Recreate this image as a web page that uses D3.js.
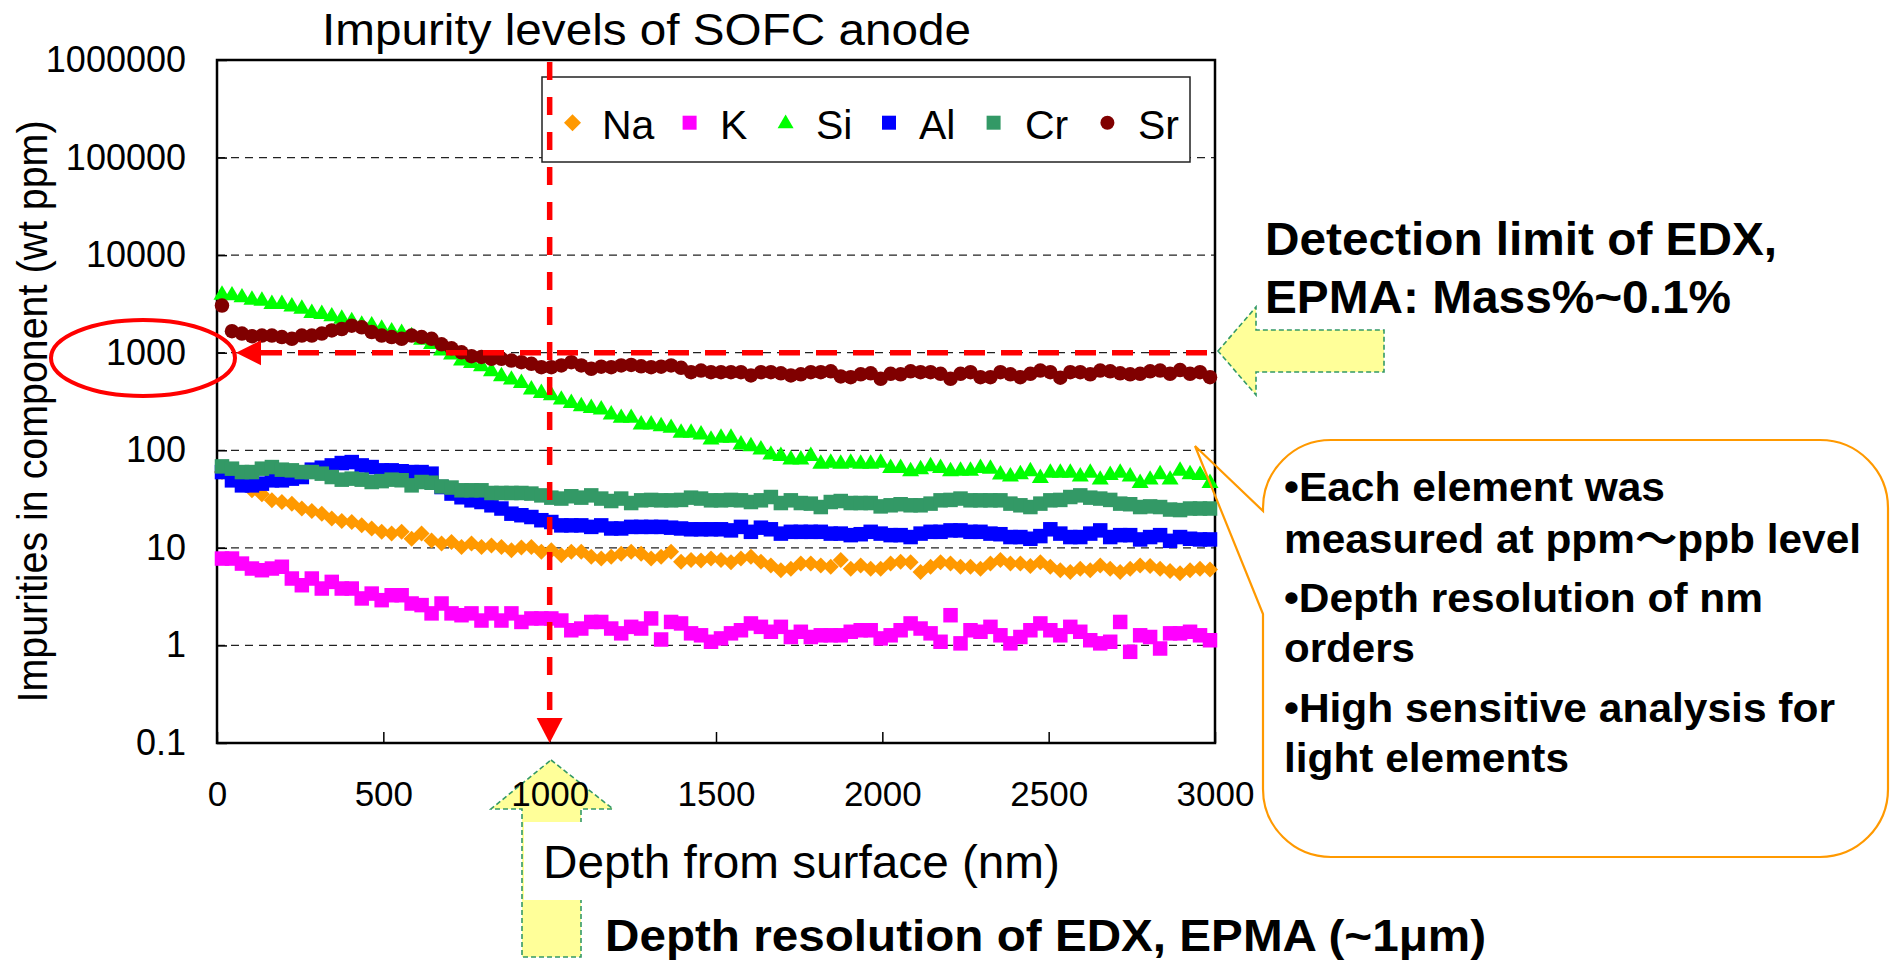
<!DOCTYPE html>
<html><head><meta charset="utf-8">
<script src="https://cdn.jsdelivr.net/npm/d3@7"></script>
<style>
html,body{margin:0;padding:0;background:#fff;}
svg{display:block;}
text{font-family:"Liberation Sans",Arial,"Noto Sans CJK JP",sans-serif;fill:#000;}
</style>
</head><body>
<svg id="c" width="1891" height="962"></svg>
<script>
// ---------- data ----------
const depth = [15,45,75,105,135,165,195,225,255,285,
315,345,375,405,435,465,495,525,555,585,
615,645,675,705,735,765,795,825,855,885,
915,945,975,1005,1035,1065,1095,1125,1155,1185,
1215,1245,1275,1305,1335,1365,1395,1425,1455,1485,
1515,1545,1575,1605,1635,1665,1695,1725,1755,1785,
1815,1845,1875,1905,1935,1965,1995,2025,2055,2085,
2115,2145,2175,2205,2235,2265,2295,2325,2355,2385,
2415,2445,2475,2505,2535,2565,2595,2625,2655,2685,
2715,2745,2775,2805,2835,2865,2895,2925,2955,2985];

const naValues = [60,55,45.5,38.9,35.4,30.7,29.5,28.4,25.3,23.9,22.4,20,18.9,18.4,17,15.8,14.6,14,14.6,12.4,14,11.9,11.1,11.5,10.2,
11.1,10.2,10.6,10.2,9.45,10.1,10.2,9.1,9.45,8.4,9.1,9.1,8.1,7.8,8.1,8.7,9.1,8.7,7.8,8.1,9.1,7.2,7.5,7.4,7.8,
7.5,7.1,7.8,8.1,7.2,6.6,5.9,6.1,6.9,6.9,6.6,6.4,7.5,6.1,6.6,6.1,6.1,6.9,7.2,7.1,5.65,6.4,7.1,6.9,6.4,
6.4,6.1,6.9,7.5,6.9,6.9,6.5,7.1,6.4,5.9,5.65,6.1,5.9,6.6,6.1,5.65,6.1,6.6,6.5,6.1,5.8,5.5,5.9,6.1,6.0];

const kValues = [7.77,7.77,6.9,6.14,5.9,6.14,6.4,4.85,4.14,4.85,3.83,4.48,3.83,3.83,3.03,3.4,2.91,3.27,3.27,2.69,2.59,2.13,2.69,2.13,2.04,
2.13,1.8,2.13,1.8,2.13,1.74,1.89,1.89,1.89,1.8,1.43,1.49,1.74,1.74,1.49,1.33,1.55,1.49,1.89,1.15,1.74,1.68,1.33,1.27,1.09,
1.18,1.33,1.43,1.68,1.55,1.38,1.55,1.22,1.38,1.22,1.27,1.27,1.27,1.38,1.43,1.43,1.18,1.27,1.43,1.68,1.49,1.33,1.09,2.04,1.05,
1.43,1.38,1.55,1.27,1.05,1.22,1.43,1.68,1.43,1.27,1.55,1.38,1.13,1.05,1.09,1.74,0.86,1.27,1.22,0.93,1.33,1.33,1.38,1.27,1.13];

const siValues = [4010,3945,3760,3565,3478,3212,3212,3040,2882,2600,2537,2404,2276,2137,1976,1944,1798,1687,1622,1500,1387,1250,1071,975,846,
800,740,657,584,540,499,427,394,373,337,311,288,277,267,237,219,219,187,187,180,173,154,154,148,131,
137,137,117,112,104,92,89,82,82,89,74,76,74,76,74,74,76,67,67,62,65,70,67,62,63,
63,67,66,57.6,55,58,62,53,60,60,60,55,60,51,57,60,55,47,51,58,51,63,58,57,47];

const alValues = [59.8,49.2,43.7,43.7,45.5,49.2,49.2,51.2,53.2,63.3,66.3,70,74,75.7,70,67.3,62.3,62.3,61,59.8,59.8,57.6,42,36,33,
30.7,29.5,27.3,25.3,22.4,21.6,20.7,19.2,18.4,17,17,17,16.4,17,15.8,15.8,16.4,16.4,16.4,16.4,16.1,15.8,15.5,15.5,15.5,
15.5,15.1,16.4,14.6,16.1,15.5,14,14.6,14.6,14.6,14.6,14,14,13.5,13.8,14.6,14,13.5,13.5,12.9,14,14.6,14.6,15.1,15.1,
14.6,14.6,14,13.8,12.9,12.9,12.4,13.2,15.5,14,12.9,12.9,14,15.1,12.9,13.5,13.5,12.2,12.9,13.5,11.8,12.9,12.4,12.2,12.2];

const crValues = [68.4,64.8,59.8,59.8,64.8,67.3,63.3,62.3,59.8,59.8,57.6,53.2,50,51.2,50,47.3,48.3,50,49.3,43.7,47.3,46.5,42.6,41.5,38.9,
38.9,38.9,36.5,36.5,36.5,36.5,36,34.5,32.7,32,33.8,32.7,34.5,32,30.2,32,28.8,30.7,31,30.7,30.7,31,32.7,32,30.7,
30.7,31,30.7,29.5,30.7,33.2,28.8,30.7,28.8,28.4,26.2,29.5,30.2,28.8,28.8,28.8,26.6,27.3,28,27.3,27.3,28.4,30.7,31,32,
30.7,30.7,30.7,30.7,28.4,27.3,26.2,28.4,30.7,31,33.2,34.5,32.7,32,31,28.4,28,26.2,26.6,26.2,24.7,24.4,25.3,25.3,25.3];

const srValues = [3040,1660,1570,1475,1500,1500,1445,1390,1500,1500,1570,1690,1750,1890,1820,1630,1500,1445,1390,1500,1445,1390,1220,1110,1010,
920,905,865,865,830,800,770,711,711,740,800,740,684,720,711,740,750,725,711,720,740,700,632,657,632,
632,632,632,585,632,632,615,585,600,632,632,645,572,562,600,615,540,608,600,645,632,632,608,540,608,
632,562,562,632,600,562,608,657,632,555,632,632,600,657,645,615,600,608,645,657,608,665,608,632,562];

const seriesNames = ["Na","K","Si","Al","Cr","Sr"];
const seriesColors = ["#ff9900","#ff00ff","#00ff00","#0000ff","#339966","#800000"];
const seriesShapes = ["diamond","square","triangle","square","square","circle"];
const seriesValues = [naValues,kValues,siValues,alValues,crValues,srValues];

const xTicks = [0,500,1000,1500,2000,2500,3000];
const yTicks = [0.1,1,10,100,1000,10000,100000,1000000];
const yTickLabels = ["0.1","1","10","100","1000","10000","100000","1000000"];
const yGrid = [1,10,100,1000,10000,100000];

const titleText = "Impurity levels of SOFC anode";
const xLabel = "Depth from surface (nm)";
const yLabel = "Impurities in component (wt ppm)";
const detectionLines = ["Detection limit of EDX,","EPMA: Mass%~0.1%"];
const calloutLines = ["•Each element was","measured at ppm～ppb level","•Depth resolution of nm","orders","•High sensitive analysis for","light elements"];
const bottomNote = "Depth resolution of EDX, EPMA (~1μm)";
const detectionLimit = 1000;
const resolutionDepth = 1000;

// ---------- layout ----------
const svg = d3.select("#c");
const L = 217, R = 1215, T = 60, B = 743;
const x = d3.scaleLinear().domain([0,3000]).range([L,R]);
const y = d3.scaleLog().domain([0.1,1000000]).range([B,T]);

// yellow arrows (drawn early so tick labels sit on top)
const arrowStyle = s => s.attr("fill","#ffff99").attr("stroke","#339966")
  .attr("stroke-width",1.6).attr("stroke-dasharray","5,3");
svg.append("path").attr("d","M551,760 L613,809 L581,809 L581,957 L522,957 L522,809 L491,809 Z").call(arrowStyle);
svg.append("rect").attr("x",524).attr("y",822).attr("width",540).attr("height",78).attr("fill","#fff");

// gridlines
svg.append("g").selectAll("line").data(yGrid).join("line")
  .attr("x1",L).attr("x2",R).attr("y1",d=>y(d)).attr("y2",d=>y(d))
  .attr("stroke","#222").attr("stroke-width",1.3).attr("stroke-dasharray","8,6");

// axes
const yAxis = d3.axisLeft(y).tickValues(yTicks).tickFormat((d,i)=>yTickLabels[i])
  .tickSizeInner(-10).tickSizeOuter(0).tickPadding(31);
const gy = svg.append("g").attr("transform",`translate(${L},0)`).call(yAxis);
gy.select(".domain").remove();
gy.selectAll("line").attr("stroke","#000").attr("stroke-width",1.5);
gy.selectAll("text").attr("font-size",36).attr("fill","#000")
  .style("font-family",'"Liberation Sans",Arial,sans-serif');

const xAxis = d3.axisBottom(x).tickValues(xTicks).tickFormat(d3.format("d"))
  .tickSizeInner(-11).tickSizeOuter(0).tickPadding(38);
const gx = svg.append("g").attr("transform",`translate(0,${B})`).call(xAxis);
gx.select(".domain").remove();
gx.selectAll("line").attr("stroke","#000").attr("stroke-width",1.5);
gx.selectAll("text").attr("font-size",35).attr("fill","#000")
  .style("font-family",'"Liberation Sans",Arial,sans-serif');

// frame
svg.append("rect").attr("x",L).attr("y",T).attr("width",R-L).attr("height",B-T)
  .attr("fill","none").attr("stroke","#000").attr("stroke-width",2.5);

// markers
function shapePath(shape, s){
  const p = d3.path();
  if(shape==="diamond"){ const r=s/2; p.moveTo(0,-r); p.lineTo(r,0); p.lineTo(0,r); p.lineTo(-r,0); p.closePath(); }
  else if(shape==="square"){ const r=s/2; p.rect(-r,-r,s,s); }
  else if(shape==="triangle"){ const w=s*0.5, h=s*0.85; p.moveTo(0,-h*0.6); p.lineTo(w,h*0.4); p.lineTo(-w,h*0.4); p.closePath(); }
  else { p.arc(0,0,s/2,0,Math.PI*2); p.closePath(); }
  return p.toString();
}
const dataSize = {diamond:16, square:14.5, triangle:17, circle:14.5};

seriesValues.forEach((vals,si)=>{
  const shape = seriesShapes[si];
  const pts = depth.map((d,i)=>({d, v: vals[i]}));
  svg.append("g").selectAll("path").data(pts).join("path")
    .attr("transform",p=>`translate(${x(p.d)},${y(p.v)})`)
    .attr("d",shapePath(shape,dataSize[shape]))
    .attr("fill",seriesColors[si]);
});

// legend
const lg = svg.append("g");
lg.append("rect").attr("x",542).attr("y",77).attr("width",648).attr("height",85)
  .attr("fill","#fff").attr("stroke","#222").attr("stroke-width",1.5);
const legMarkX = [572.5,689.6,785.6,889,993.6,1107.4];
const legTextX = [602,720,816,919,1025,1138];
const legSize = {diamond:17, square:14, triangle:16, circle:14};
seriesNames.forEach((n,i)=>{
  lg.append("path").attr("transform",`translate(${legMarkX[i]},122.7)`)
    .attr("d",shapePath(seriesShapes[i],legSize[seriesShapes[i]])).attr("fill",seriesColors[i]);
  lg.append("text").attr("x",legTextX[i]).attr("y",138.5).attr("font-size",41).text(n);
});

// red dashed guide lines + arrowheads
const yDL = y(detectionLimit), xDR = x(resolutionDepth);
svg.append("line").attr("x1",261).attr("x2",R).attr("y1",yDL).attr("y2",yDL)
  .attr("stroke","#ff0000").attr("stroke-width",5.5).attr("stroke-dasharray","21,16");
svg.append("path").attr("d",`M236,${yDL} L261,${yDL-12.5} L261,${yDL+12.5} Z`).attr("fill","#ff0000");
svg.append("line").attr("x1",xDR).attr("x2",xDR).attr("y1",62).attr("y2",719)
  .attr("stroke","#ff0000").attr("stroke-width",5.5).attr("stroke-dasharray","18,17");
svg.append("path").attr("d",`M${xDR},${B} L${xDR-13},${B-25} L${xDR+13},${B-25} Z`).attr("fill","#ff0000");

// red ellipse around 1000
svg.append("ellipse").attr("cx",143).attr("cy",358).attr("rx",92).attr("ry",38)
  .attr("fill","none").attr("stroke","#ff0000").attr("stroke-width",4);

// right yellow arrow
svg.append("path").attr("d","M1218,351 L1256,307 L1256,330 L1384,330 L1384,372 L1256,372 L1256,395 Z").call(arrowStyle);

// callout
const cx0=1263, cx1=1888, cy0=440, cy1=857, cr=68;
svg.append("path").attr("d",
  `M${cx0},${cy0+cr} A${cr},${cr} 0 0 1 ${cx0+cr},${cy0} L${cx1-cr},${cy0} A${cr},${cr} 0 0 1 ${cx1},${cy0+cr}
   L${cx1},${cy1-cr} A${cr},${cr} 0 0 1 ${cx1-cr},${cy1} L${cx0+cr},${cy1} A${cr},${cr} 0 0 1 ${cx0},${cy1-cr}
   L${cx0},614 L1195,446 L${cx0},511 Z`)
  .attr("fill","none").attr("stroke","#ff9900").attr("stroke-width",2.2);

// texts
function txt(s, xx, yy, size, bold, len){
  const t = svg.append("text").attr("x",xx).attr("y",yy).attr("font-size",size)
    .attr("font-weight",bold?"bold":"normal").text(s);
  if(len){ t.attr("textLength",len).attr("lengthAdjust","spacingAndGlyphs"); }
  return t;
}
txt(titleText, 322, 45, 44, false, 649);
txt(xLabel, 543, 878, 46, false, 517);
svg.append("text").attr("transform","translate(47,411.5) rotate(-90)")
  .attr("text-anchor","middle").attr("font-size",42)
  .attr("textLength",582).attr("lengthAdjust","spacingAndGlyphs").text(yLabel);

txt(detectionLines[0], 1265, 255, 46, true, 512);
txt(detectionLines[1], 1265, 313, 46, true, 466);

const cBase = [501,553,612,662,722,772];
const cLen = [381,577,479,131,551,285];
calloutLines.forEach((s,i)=>txt(s, 1284, cBase[i], 40, true, cLen[i]));

txt(bottomNote, 605, 951, 45, true, 881);
</script>
</body></html>
